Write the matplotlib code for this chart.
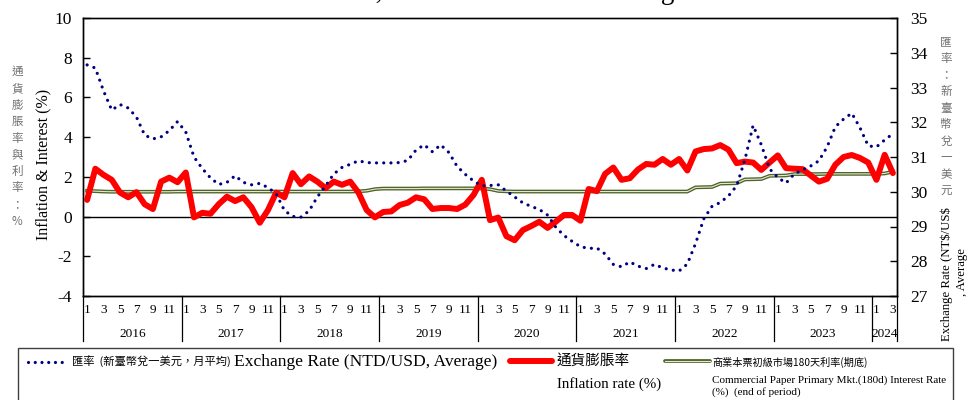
import matplotlib
matplotlib.use('Agg')
import matplotlib.pyplot as plt
import matplotlib.transforms as mtransforms
from matplotlib.lines import Line2D
from matplotlib.patches import Rectangle

W, H = 967, 400
SERIF = 'Liberation Serif'
CJK = 'Noto Sans CJK TC'
plt.rcParams['font.family'] = [SERIF, CJK]

# ---------------- data ----------------
years = ['2016', '2017', '2018', '2019', '2020', '2021', '2022', '2023', '2024']
months_per_year = [12, 12, 12, 12, 12, 12, 12, 12, 3]
month_labels = ['1', '3', '5', '7', '9', '11']

exchange_rate = [
    33.65, 33.56, 32.90, 32.35, 32.51, 32.41, 32.15, 31.63, 31.52, 31.58, 31.76, 32.02,
    31.72, 31.00, 30.67, 30.40, 30.21, 30.27, 30.46, 30.27, 30.20, 30.24, 30.12, 29.94,
    29.46, 29.29, 29.27, 29.45, 29.85, 30.17, 30.51, 30.70, 30.79, 30.89, 30.84, 30.83,
    30.83, 30.83, 30.84, 30.90, 31.20, 31.35, 31.15, 31.35, 31.13, 30.73, 30.50, 30.31,
    30.17, 30.18, 30.20, 30.02, 29.85, 29.68, 29.58, 29.49, 29.33, 28.98, 28.74, 28.57,
    28.42, 28.37, 28.38, 28.21, 27.91, 27.84, 27.98, 27.86, 27.79, 27.91, 27.81, 27.75,
    27.72, 27.92, 28.51, 29.22, 29.58, 29.69, 29.88, 30.17, 30.92, 31.91, 31.35, 30.66,
    30.41, 30.25, 30.51, 30.63, 30.74, 30.89, 31.29, 31.87, 32.09, 32.26, 31.84, 31.32,
    31.29, 31.49, 31.67,
]

inflation = [
    0.84, 2.41, 2.10, 1.85, 1.21, 0.97, 1.23, 0.62, 0.38, 1.76, 1.96, 1.73,
    2.22, -0.04, 0.19, 0.14, 0.62, 1.00, 0.78, 0.97, 0.47, -0.31, 0.33, 1.21,
    0.97, 2.19, 1.63, 2.02, 1.76, 1.43, 1.76, 1.60, 1.76, 1.21, 0.33, -0.04,
    0.23, 0.26, 0.58, 0.70, 0.97, 0.87, 0.38, 0.43, 0.43, 0.38, 0.60, 1.09,
    1.85, -0.18, -0.05, -0.99, -1.19, -0.68, -0.48, -0.26, -0.57, -0.26, 0.08, 0.08,
    -0.21, 1.39, 1.28, 2.15, 2.47, 1.85, 1.93, 2.37, 2.65, 2.61, 2.90, 2.61,
    2.90, 2.32, 3.28, 3.40, 3.43, 3.60, 3.37, 2.69, 2.77, 2.72, 2.35, 2.72,
    3.08, 2.44, 2.41, 2.39, 2.07, 1.76, 1.90, 2.61, 3.00, 3.10, 2.95, 2.72,
    1.85, 3.11, 2.19,
]

interest = [
    1.30, 1.28, 1.26, 1.25, 1.25, 1.25, 1.25, 1.25, 1.25, 1.25, 1.25, 1.26,
    1.26, 1.26, 1.26, 1.26, 1.26, 1.26, 1.26, 1.26, 1.26, 1.26, 1.26, 1.26,
    1.26, 1.26, 1.26, 1.26, 1.26, 1.26, 1.26, 1.26, 1.26, 1.27, 1.30, 1.38,
    1.41, 1.41, 1.41, 1.41, 1.41, 1.42, 1.42, 1.42, 1.42, 1.42, 1.42, 1.42,
    1.41, 1.38, 1.29, 1.27, 1.26, 1.26, 1.26, 1.26, 1.26, 1.26, 1.26, 1.26,
    1.26, 1.26, 1.26, 1.26, 1.26, 1.26, 1.26, 1.26, 1.26, 1.26, 1.26, 1.26,
    1.26, 1.26, 1.47, 1.48, 1.49, 1.66, 1.67, 1.68, 1.87, 1.88, 1.89, 2.05,
    2.06, 2.07, 2.14, 2.14, 2.14, 2.14, 2.15, 2.15, 2.15, 2.15, 2.15, 2.15,
    2.15, 2.17, 2.26,
]

left_ticks = [-4, -2, 0, 2, 4, 6, 8, 10]
right_ticks = [27, 28, 29, 30, 31, 32, 33, 34, 35]

left_cn_label = '通貨膨脹率與利率：%'
right_cn_label = '匯率：新臺幣兌一美元'


def fx(px):
    return px / W


def fy(py):
    return 1 - py / H


fig = plt.figure(figsize=(W / 100, H / 100), dpi=100)
ax = fig.add_axes([fx(83), fy(296), fx(897) - fx(83), fy(18) - fy(296)])
ax2 = ax.twinx()

n = len(inflation)
x = list(range(n))

ax.set_xlim(-0.5, n - 0.5)
ax.set_ylim(-4, 10)
ax2.set_ylim(27, 35)

# series
ax.axhline(0, color='black', lw=1.0, zorder=2)
ax.plot(x, interest, color='#4f6228', lw=2.7, solid_joinstyle='round', zorder=3)
ax.plot(x, interest, color='#e2ead2', lw=0.8, solid_joinstyle='round', zorder=3.1)
ax.plot(x, inflation, color='#ff0000', lw=4.3, solid_joinstyle='round',
        solid_capstyle='round', zorder=4)
ax2.plot(x, exchange_rate, color='#000080', lw=2.3, linestyle=(0, (0.01, 2.25)),
         dash_capstyle='round', zorder=5)

# spines
for a in (ax, ax2):
    for s in a.spines.values():
        s.set_color('black')
        s.set_linewidth(1.0)
ax.spines['top'].set_color('#404040')

# y ticks
ax.set_yticks(left_ticks)
ax.set_yticklabels([str(t) for t in left_ticks])
ax.tick_params(axis='y', direction='in', length=5, width=1, pad=8, labelsize=12.5)
ax2.set_yticks(right_ticks)
ax2.set_yticklabels([str(t) for t in right_ticks])
ax2.tick_params(axis='y', direction='in', length=5, width=1, pad=9.5, labelsize=12.5)

# x month ticks
pos, labs = [], []
start = 0
starts = []
for y, m in zip(years, months_per_year):
    starts.append(start)
    for k, lab in enumerate(month_labels):
        mi = 2 * k
        if mi < m:
            pos.append(start + mi)
            labs.append(lab)
    start += m
ax.set_xticks(pos)
ax.set_xticklabels(labs)
ax.tick_params(axis='x', length=0, pad=5.5, labelsize=9.5)

blend = mtransforms.blended_transform_factory(ax.transData, ax.transAxes)
bounds = [s - 0.5 for s in starts] + [n - 0.5]
for b in bounds:
    ax.plot([b, b], [0, -45 / 278], transform=blend, clip_on=False,
            color='black', lw=0.9)
for y, s, m in zip(years, starts, months_per_year):
    ax.text(s - 0.5 + m / 2, -38 / 278, y, transform=blend, ha='center',
            va='center', fontsize=9.5)

# axis labels
fig.text(fx(43), fy(164), 'Inflation & Interest (%)', rotation=90,
         ha='center', va='center', fontsize=11.5, family=SERIF)
for i, ch in enumerate(left_cn_label):
    fig.text(fx(17), fy(71.7 + i * 16.6), ch, ha='center', va='center',
             fontsize=8.3, color='#707070', family=[CJK])
for i, ch in enumerate(right_cn_label):
    fig.text(fx(946), fy(41.7 + i * 16.6), ch, ha='center', va='center',
             fontsize=8.3, color='#707070', family=[CJK])
fig.text(fx(947), fy(274), r'Exchange Rate (NT\$/US\$', rotation=90,
         ha='center', va='center', fontsize=9.2, family=SERIF)
fig.text(fx(962), fy(272.5), ', Average', rotation=90,
         ha='center', va='center', fontsize=9.2, family=SERIF)

# title (cut by the top edge in the reference)
fig.text(fx(226), fy(-1), 'Inflation Rate, Interest Rate and Exchange Rate',
         ha='left', va='baseline', fontsize=19.5, family=SERIF)

# legend box
fig.add_artist(Rectangle((fx(18), fy(403)), fx(953) - fx(18), fy(348) - fy(403),
                         transform=fig.transFigure, fill=False,
                         edgecolor='#404040', lw=1.0))
fig.add_artist(Line2D([fx(28), fx(68)], [fy(361.7), fy(361.7)],
                      transform=fig.transFigure, color='#000080', lw=2.3,
                      linestyle=(0, (0.01, 2.1)), dash_capstyle='round'))
fig.text(fx(72), fy(361.7), '匯率  (新臺幣兌一美元，月平均)', ha='left',
         va='center', fontsize=8.1, family=[CJK])
fig.text(fx(234), fy(361.7), 'Exchange Rate (NTD/USD, Average)', ha='left',
         va='center', fontsize=12.6, family=SERIF)

fig.add_artist(Line2D([fx(510), fx(552)], [fy(361), fy(361)],
                      transform=fig.transFigure, color='#ff0000', lw=4.3,
                      solid_capstyle='round'))
fig.text(fx(557), fy(361), '通貨膨脹率', ha='left', va='center',
         fontsize=10.5, family=[CJK])
fig.text(fx(557), fy(384.3), 'Inflation rate (%)', ha='left', va='center',
         fontsize=10.8, family=SERIF)

fig.add_artist(Line2D([fx(665), fx(710)], [fy(360.7), fy(360.7)],
                      transform=fig.transFigure, color='#4f6228', lw=2.7,
                      solid_capstyle='round'))
fig.add_artist(Line2D([fx(665), fx(710)], [fy(360.7), fy(360.7)],
                      transform=fig.transFigure, color='#e2ead2', lw=0.8))
fig.text(fx(712), fy(362), '商業本票初級市場180天利率(期底)', ha='left',
         va='center', fontsize=7.3, family=[CJK])
fig.text(fx(712), fy(380), 'Commercial Paper Primary Mkt.(180d) Interest Rate',
         ha='left', va='center', fontsize=8, family=SERIF)
fig.text(fx(712), fy(392.3), '(%)  (end of period)', ha='left', va='center',
         fontsize=8, family=SERIF)

fig.savefig('out.png', dpi=100)
